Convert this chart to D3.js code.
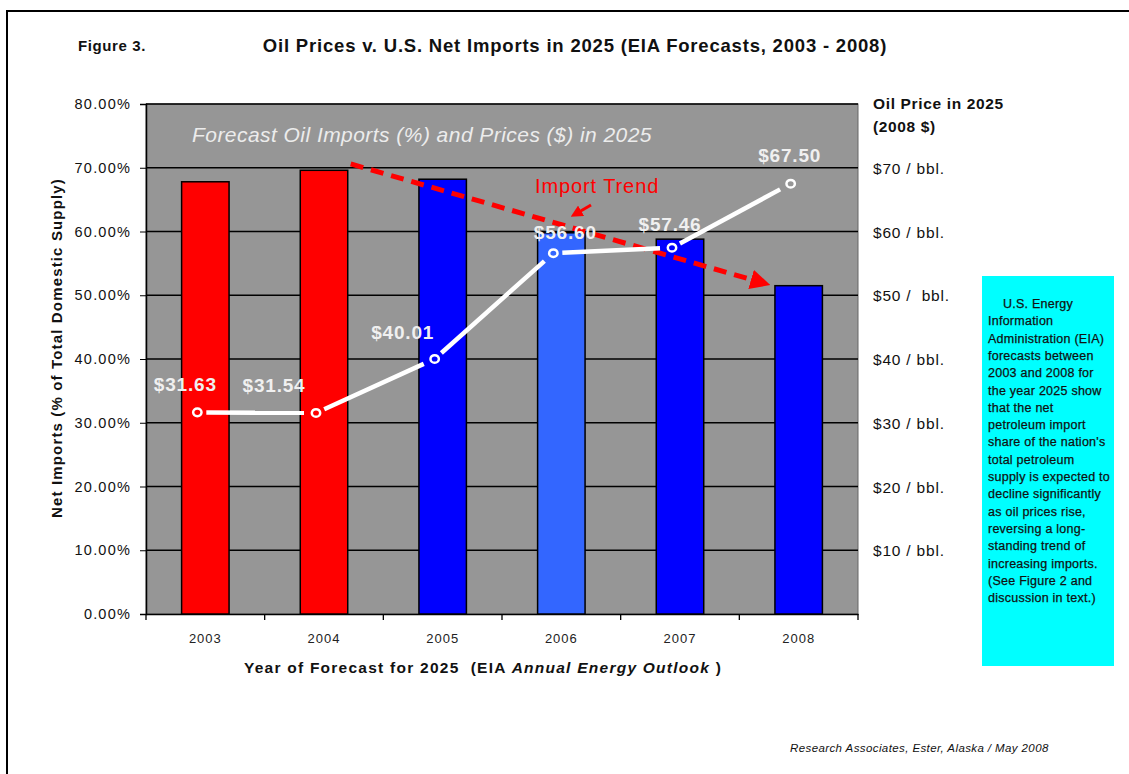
<!DOCTYPE html>
<html>
<head>
<meta charset="utf-8">
<script src="https://cdn.jsdelivr.net/npm/d3@7"></script>
<style>
  body { margin: 0; background: #fff; }
  text { font-family: "Liberation Sans", Arial, sans-serif; }
</style>
</head>
<body>
<svg id="viz" width="1129" height="774"></svg>
<script>
// data
let years = ["2003", "2004", "2005", "2006", "2007", "2008"];
let importShare = [67.8, 69.6, 68.2, 59.8, 58.8, 51.5]; // % of total domestic supply
let oilPrice = [31.63, 31.54, 40.01, 56.6, 57.46, 67.5]; // $ / bbl (2008 $)
let barColors = ["#ff0000", "#ff0000", "#0000ff", "#3366ff", "#0000ff", "#0000ff"];
let pctTicks = [0, 10, 20, 30, 40, 50, 60, 70, 80];
let priceTicks = [70, 60, 50, 40, 30, 20, 10];
let priceTickLabels = ["$70 / bbl.", "$60 / bbl.", "$50 /  bbl.", "$40 / bbl.", "$30 / bbl.", "$20 / bbl.", "$10 / bbl."];
let trendStart = 70.6, trendEnd = 52.3; // import trend arrow, % values
// label nudges (layout only)
let labelNudge = [[-12, -21], [-42, -21], [-32, -20], [12, -14], [-2, -17], [-1, -22]];
let noteLines = [
  "    U.S. Energy", "Information", "Administration (EIA)", "forecasts between",
  "2003 and 2008 for", "the year 2025 show", "that the net", "petroleum import",
  "share of the nation's", "total petroleum", "supply is expected to", "decline significantly",
  "as oil prices rise,", "reversing a long-", "standing trend of", "increasing imports.",
  "(See Figure 2 and", "discussion in text.)"
];

let svg = d3.select("#viz");
let plotL = 146, plotR = 858, plotT = 104, plotB = 614;

// outer frame
svg.append("path").attr("d", "M7,774 L7,11 L1129,11")
  .attr("fill", "none").attr("stroke", "#000").attr("stroke-width", 2);

let x = d3.scaleBand().domain(years).range([plotL, plotR]).paddingInner(0.6).paddingOuter(0.3);
let y = d3.scaleLinear().domain([0, 80]).range([plotB, plotT]);
let yPrice = d3.scaleLinear().domain([0, 80]).range([plotB, plotT]);
let step = x.step();

// plot background + grid
svg.append("rect").attr("x", plotL).attr("y", plotT).attr("width", plotR - plotL).attr("height", plotB - plotT)
  .attr("fill", "#969696").attr("stroke", "#666").attr("stroke-width", 1);
svg.append("g").selectAll("line").data(pctTicks.slice(1)).enter().append("line")
  .attr("x1", plotL).attr("x2", plotR).attr("y1", d => y(d)).attr("y2", d => y(d))
  .attr("stroke", "#000").attr("stroke-width", 1.3);

svg.append("text").attr("x", 192).attr("y", 142).text("Forecast Oil Imports (%) and Prices ($) in 2025")
  .attr("font-size", 21).attr("letter-spacing", 0.45).attr("font-style", "italic").attr("fill", "#ececec");

// axes
let yAxis = svg.append("g").attr("transform", `translate(${plotL},0)`)
  .call(d3.axisLeft(y).tickValues(pctTicks).tickFormat(d => d.toFixed(2) + "%").tickSize(6).tickPadding(9));
yAxis.select(".domain").attr("stroke", "#000").attr("stroke-width", 1.5);
yAxis.selectAll("text").attr("font-size", 14.5).attr("letter-spacing", 1.2).attr("fill", "#111")
  .attr("font-family", "Liberation Sans, Arial");

let bounds = years.map(d => x(d) - (step - x.bandwidth()) / 2).concat([plotR]);
let xAxis = svg.append("g").attr("transform", `translate(0,${plotB})`)
  .call(d3.axisBottom(x).tickSize(0).tickPadding(20));
xAxis.select(".domain").attr("stroke", "#000").attr("stroke-width", 1.5);
xAxis.selectAll("text").attr("font-size", 13).attr("letter-spacing", 1).attr("fill", "#222")
  .attr("font-family", "Liberation Sans, Arial");
svg.append("g").selectAll("line").data(bounds).enter().append("line")
  .attr("x1", d => d).attr("x2", d => d).attr("y1", plotB).attr("y2", plotB + 6)
  .attr("stroke", "#000").attr("stroke-width", 1.3);

// bars
svg.append("g").selectAll("rect").data(years).enter().append("rect")
  .attr("x", d => x(d)).attr("width", x.bandwidth())
  .attr("y", (d, i) => y(importShare[i])).attr("height", (d, i) => plotB - y(importShare[i]))
  .attr("fill", (d, i) => barColors[i]).attr("stroke", "#000").attr("stroke-width", 1.5);

// import trend arrow
let defs = svg.append("defs");
defs.append("marker").attr("id", "redHead").attr("viewBox", "0 0 10 10").attr("refX", 2).attr("refY", 5)
  .attr("markerWidth", 4).attr("markerHeight", 4).attr("orient", "auto")
  .append("path").attr("d", "M0,0 L10,5 L0,10 Z").attr("fill", "#ff0000");
let tx1 = x("2004") + x.bandwidth() + 3, tx2 = x("2008") - 20;
svg.append("line").attr("x1", tx1).attr("y1", y(trendStart)).attr("x2", tx2).attr("y2", y(trendEnd))
  .attr("stroke", "#ff0000").attr("stroke-width", 5).attr("stroke-dasharray", "13,8")
  .attr("marker-end", "url(#redHead)");
svg.append("text").attr("x", 535).attr("y", 193).text("Import Trend")
  .attr("font-size", 20).attr("letter-spacing", 0.9).attr("fill", "#ff0000");
svg.append("line").attr("x1", 591).attr("y1", 205).attr("x2", 579).attr("y2", 212)
  .attr("stroke", "#ff0000").attr("stroke-width", 3).attr("marker-end", "url(#redHead)");

// price line
let pts = oilPrice.map((p, i) => [x(years[i]) + x.bandwidth() / 2 - 8, yPrice(p)]);
let segs = d3.pairs(pts).map(([a, b]) => {
  let dx = b[0] - a[0], dy = b[1] - a[1], len = Math.hypot(dx, dy);
  return [a[0] + dx / len * 9, a[1] + dy / len * 9, b[0] - dx / len * 12, b[1] - dy / len * 12];
});
svg.append("g").selectAll("line").data(segs).enter().append("line")
  .attr("x1", d => d[0]).attr("y1", d => d[1]).attr("x2", d => d[2]).attr("y2", d => d[3])
  .attr("stroke", "#fff").attr("stroke-width", 4.5);
svg.append("g").selectAll("ellipse").data(pts).enter().append("ellipse")
  .attr("cx", d => d[0]).attr("cy", d => d[1]).attr("rx", 4.2).attr("ry", 3.8)
  .attr("fill", "none").attr("stroke", "#fff").attr("stroke-width", 2.5);
svg.append("g").selectAll("text").data(oilPrice).enter().append("text")
  .attr("x", (d, i) => pts[i][0] + labelNudge[i][0]).attr("y", (d, i) => pts[i][1] + labelNudge[i][1])
  .attr("text-anchor", "middle").attr("font-size", 19).attr("letter-spacing", 0.8)
  .attr("font-weight", "bold").attr("fill", "#f0f0f0")
  .text(d => "$" + d.toFixed(2));

// right price labels
svg.append("g").selectAll("text").data(priceTicks).enter().append("text")
  .attr("x", 873).attr("y", d => yPrice(d) + 6).attr("font-size", 15.5).attr("letter-spacing", 0.8)
  .attr("fill", "#111").style("white-space", "pre")
  .text((d, i) => priceTickLabels[i]);
svg.append("text").attr("x", 873).attr("y", 109).text("Oil Price in 2025")
  .attr("font-size", 15.5).attr("letter-spacing", 0.65).attr("font-weight", "bold").attr("fill", "#111");
svg.append("text").attr("x", 873).attr("y", 132).text("(2008 $)")
  .attr("font-size", 15.5).attr("letter-spacing", 0.65).attr("font-weight", "bold").attr("fill", "#111");

// titles
svg.append("text").attr("x", 78).attr("y", 51).text("Figure 3.")
  .attr("font-size", 15).attr("letter-spacing", 0.6).attr("font-weight", "bold").attr("fill", "#111");
svg.append("text").attr("x", 575).attr("y", 52).attr("text-anchor", "middle")
  .text("Oil Prices v. U.S. Net Imports in 2025 (EIA Forecasts, 2003 - 2008)")
  .attr("font-size", 18.5).attr("letter-spacing", 0.8).attr("font-weight", "bold").attr("fill", "#111");
svg.append("text").attr("transform", "translate(62,348) rotate(-90)").attr("text-anchor", "middle")
  .text("Net Imports (% of Total Domestic Supply)")
  .attr("font-size", 15).attr("letter-spacing", 1.15).attr("font-weight", "bold").attr("fill", "#111");
let xt = svg.append("text").attr("x", 483).attr("y", 673).attr("text-anchor", "middle")
  .attr("font-size", 15.5).attr("letter-spacing", 1.25).attr("font-weight", "bold").attr("fill", "#111")
  .style("white-space", "pre");
xt.append("tspan").text("Year of Forecast for 2025  (EIA ");
xt.append("tspan").attr("font-style", "italic").text("Annual Energy Outlook ");
xt.append("tspan").text(")");

// note box
defs.append("clipPath").attr("id", "boxClip").append("rect")
  .attr("x", 982).attr("y", 276).attr("width", 132).attr("height", 390);
svg.append("rect").attr("x", 982).attr("y", 276).attr("width", 132).attr("height", 390).attr("fill", "#00ffff");
svg.append("g").attr("clip-path", "url(#boxClip)").selectAll("text").data(noteLines).enter().append("text")
  .attr("x", 988).attr("y", (d, i) => 308 + i * 17.3).style("white-space", "pre")
  .attr("font-size", 12.5).attr("letter-spacing", 0.25).attr("fill", "#111")
  .attr("stroke", "#111").attr("stroke-width", 0.25).text(d => d);

svg.append("text").attr("x", 790).attr("y", 752).text("Research Associates, Ester, Alaska / May 2008")
  .attr("font-size", 11.5).attr("letter-spacing", 0.4).attr("font-style", "italic").attr("fill", "#111");
</script>
</body>
</html>
